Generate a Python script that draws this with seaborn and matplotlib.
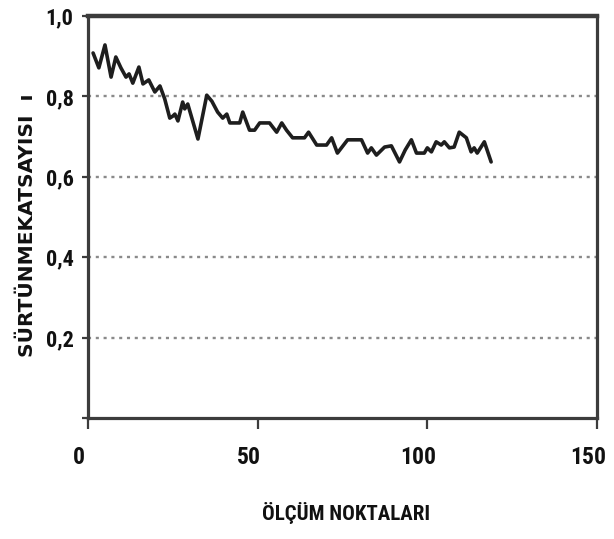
import matplotlib
matplotlib.use("Agg")
import matplotlib.pyplot as plt
import matplotlib.transforms as mtransforms
import seaborn as sns
import pandas as pd

# Friction coefficient readings along the measurement points
olcum_noktasi = [
    1.5, 3.2, 5.0, 6.8, 8.2, 9.7, 11.2, 12.1, 13.2, 15.0, 16.2, 17.9, 19.7,
    21.2, 22.6, 24.1, 25.0, 25.6, 26.5, 27.9, 28.5, 29.4, 32.4, 35.0, 36.5,
    38.2, 39.7, 40.9, 41.8, 44.7, 45.6, 47.6, 49.1, 50.6, 53.5, 55.6, 57.1,
    58.5, 60.3, 63.8, 65.0, 67.4, 70.3, 71.8, 73.5, 76.5, 80.6, 82.4, 83.5,
    85.0, 87.4, 89.4, 91.8, 93.5, 95.3, 96.8, 99.1, 100.0, 101.2, 102.6,
    104.1, 105.0, 106.5, 107.9, 109.4, 111.5, 112.9, 113.8, 114.7, 116.8,
    118.8,
]
surtunme_katsayisi = [
    0.908, 0.871, 0.928, 0.848, 0.898, 0.871, 0.848, 0.856, 0.833, 0.873,
    0.831, 0.841, 0.811, 0.826, 0.794, 0.746, 0.751, 0.756, 0.739, 0.786,
    0.769, 0.781, 0.694, 0.803, 0.788, 0.761, 0.746, 0.756, 0.734, 0.734,
    0.761, 0.716, 0.716, 0.734, 0.734, 0.711, 0.734, 0.716, 0.697, 0.697,
    0.711, 0.679, 0.679, 0.697, 0.659, 0.692, 0.692, 0.659, 0.672, 0.654,
    0.674, 0.677, 0.637, 0.667, 0.692, 0.659, 0.659, 0.672, 0.662, 0.687,
    0.679, 0.687, 0.672, 0.674, 0.711, 0.697, 0.662, 0.672, 0.659, 0.687,
    0.637,
]

x_ticks = [0, 50, 100, 150]
x_tick_labels = ["0", "50", "100", "150"]
y_ticks = [0.0, 0.2, 0.4, 0.6, 0.8, 1.0]
y_tick_labels = ["", "0,2", "0,4", "0,6", "0,8", "1,0"]
grid_levels = [0.2, 0.4, 0.6, 0.8]

x_title = "ÖLÇÜM NOKTALARI"
y_title = "SÜRTÜNMEKATSAYISI  ı"

sns.set_style("white")
narrow = ["Liberation Sans Narrow", "Roboto Condensed", "DejaVu Sans"]
tick_font = dict(family=narrow, fontweight="bold", fontstretch="condensed",
                 color="#111111")

df = pd.DataFrame({"x": olcum_noktasi, "y": surtunme_katsayisi})

W, H = 614, 539
fig = plt.figure(figsize=(W / 100, H / 100), dpi=100)
ax = fig.add_axes([88 / W, 1 - 418 / H, (597 - 88) / W, (418 - 16) / H])

# dotted horizontal guide lines
for lvl in grid_levels:
    ax.axhline(lvl, color="#8a8a8a", linewidth=1.7,
               linestyle=(0, (1.3, 2.0)), zorder=1)

sns.lineplot(data=df, x="x", y="y", ax=ax, color="#1e1e1e",
             linewidth=2.6, sort=False, zorder=3)

ax.set_xlim(0, 150)
ax.set_ylim(0, 1.0)
ax.set_xticks(x_ticks)
ax.set_xticklabels(x_tick_labels, fontsize=17, **tick_font)
ax.set_yticks(y_ticks)
ax.set_yticklabels(y_tick_labels, fontsize=16, **tick_font)

for side in ["left", "right", "bottom", "top"]:
    ax.spines[side].set_color("#3c3c3c")
    ax.spines[side].set_linewidth(2.3)
ax.spines["top"].set_linewidth(3.2)

ax.tick_params(axis="x", direction="out", length=8, width=1.6,
               color="#3c3c3c", pad=12, bottom=True)
ax.tick_params(axis="y", direction="out", length=4.5, width=1.6,
               color="#3c3c3c", pad=6, left=True)

shift = mtransforms.ScaledTranslation(-9 / 100, 0, fig.dpi_scale_trans)
for lab in ax.get_xticklabels():
    lab.set_transform(lab.get_transform() + shift)

ax.set_xlabel(x_title, fontsize=15, **tick_font)
ax.xaxis.label.set_va("center")
ax.xaxis.set_label_coords((346 - 88) / 509, (418 - 513) / 402)

ax.set_ylabel(y_title, family="DejaVu Sans", fontweight="bold",
              fontsize=14.5, color="#111111")
ax.yaxis.label.set_va("center")
ax.yaxis.set_label_coords((28 - 88) / 509, (418 - 225) / 402)

fig.savefig("out.png", dpi=100, facecolor="white")
